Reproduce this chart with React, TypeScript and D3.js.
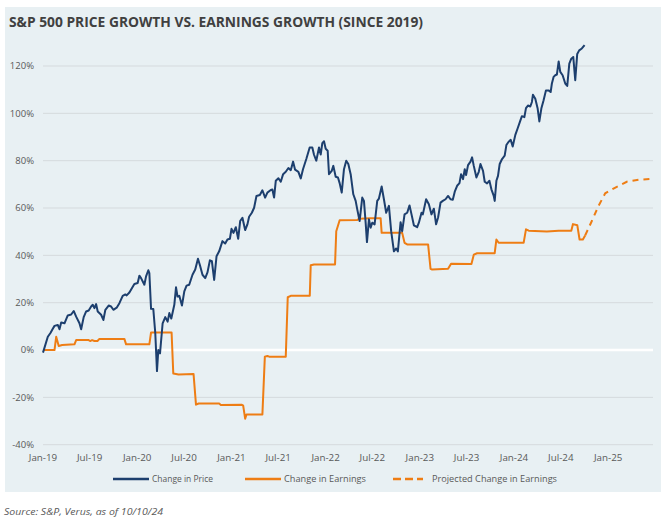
import React from 'react';
import * as d3 from 'd3';

const W = 664;
const H = 520;

const titleText = 'S&P 500 PRICE GROWTH VS. EARNINGS GROWTH (SINCE 2019)';
const sourceText = 'Source: S&P, Verus, as of 10/10/24';

const yTicks = [-40, -20, 0, 20, 40, 60, 80, 100, 120];
const xTickYears = [2019, 2019.496, 2020, 2020.497, 2021, 2021.496, 2022, 2022.496, 2023, 2023.496, 2024, 2024.497, 2025];
const xTickLabels = ['Jan-19', 'Jul-19', 'Jan-20', 'Jul-20', 'Jan-21', 'Jul-21', 'Jan-22', 'Jul-22', 'Jan-23', 'Jul-23', 'Jan-24', 'Jul-24', 'Jan-25'];

const seriesNames = ['Change in Price', 'Change in Earnings', 'Projected Change in Earnings'];

// [decimal year, % change since Jan 2019]
const priceSeries: [number, number][] = [
  [2019.0, -1.1], [2019.051, 5.6], [2019.079, 7.2], [2019.104, 9.0], [2019.122, 10.2], [2019.157, 10.6],
  [2019.175, 8.8], [2019.193, 11.6], [2019.228, 11.3], [2019.263, 14.6], [2019.299, 15.0], [2019.326, 16.5],
  [2019.352, 14.1], [2019.387, 11.3], [2019.405, 8.8], [2019.432, 13.9], [2019.458, 16.3], [2019.485, 16.7],
  [2019.511, 18.4], [2019.528, 19.1], [2019.546, 17.7], [2019.564, 19.4], [2019.581, 16.3], [2019.617, 14.9],
  [2019.641, 12.7], [2019.662, 17.0], [2019.697, 18.8], [2019.723, 18.4], [2019.747, 17.0], [2019.782, 17.9],
  [2019.811, 19.8], [2019.846, 22.9], [2019.874, 23.5], [2019.888, 23.1], [2019.917, 24.3], [2019.945, 26.2],
  [2019.97, 27.9], [2020.005, 28.3], [2020.023, 31.4], [2020.041, 30.4], [2020.076, 27.6], [2020.094, 31.1],
  [2020.118, 33.7], [2020.129, 32.5], [2020.147, 17.4], [2020.171, 17.3], [2020.192, 7.1], [2020.21, -8.9],
  [2020.224, 0.0], [2020.242, -1.4], [2020.27, 11.3], [2020.298, 13.9], [2020.323, 12.0], [2020.341, 15.6],
  [2020.362, 13.3], [2020.394, 19.1], [2020.412, 26.5], [2020.428, 22.6], [2020.447, 22.9], [2020.475, 18.8],
  [2020.5, 24.8], [2020.524, 27.2], [2020.552, 27.6], [2020.587, 31.8], [2020.616, 34.0], [2020.645, 38.6],
  [2020.666, 35.8], [2020.693, 31.8], [2020.722, 30.4], [2020.746, 32.8], [2020.772, 37.9], [2020.793, 37.5],
  [2020.817, 29.6], [2020.842, 39.6], [2020.87, 41.7], [2020.905, 46.0], [2020.934, 45.0], [2020.958, 46.7],
  [2020.984, 47.0], [2021.001, 51.2], [2021.022, 49.5], [2021.047, 51.9], [2021.072, 47.0], [2021.093, 54.5],
  [2021.117, 55.9], [2021.146, 50.7], [2021.17, 53.1], [2021.188, 56.3], [2021.217, 58.0], [2021.241, 60.1],
  [2021.266, 65.1], [2021.302, 65.5], [2021.329, 67.5], [2021.358, 64.4], [2021.382, 66.5], [2021.418, 67.6],
  [2021.435, 67.8], [2021.453, 64.4], [2021.471, 71.5], [2021.499, 72.6], [2021.524, 71.1], [2021.549, 74.3],
  [2021.577, 75.3], [2021.605, 76.9], [2021.63, 76.0], [2021.655, 79.6], [2021.676, 76.2], [2021.711, 75.3],
  [2021.736, 72.5], [2021.76, 76.4], [2021.795, 80.7], [2021.831, 85.6], [2021.859, 85.6], [2021.877, 82.5],
  [2021.901, 80.0], [2021.93, 85.6], [2021.948, 82.6], [2021.965, 87.4], [2021.983, 88.2], [2022.001, 85.0],
  [2022.022, 84.2], [2022.036, 74.3], [2022.065, 75.7], [2022.082, 77.8], [2022.107, 73.2], [2022.131, 72.9],
  [2022.149, 70.5], [2022.171, 66.5], [2022.195, 76.4], [2022.219, 80.0], [2022.241, 78.6], [2022.266, 74.3],
  [2022.294, 65.8], [2022.319, 63.0], [2022.336, 59.4], [2022.361, 54.5], [2022.389, 64.4], [2022.407, 63.0],
  [2022.425, 53.8], [2022.439, 45.6], [2022.46, 55.2], [2022.478, 51.7], [2022.495, 53.8], [2022.52, 53.1],
  [2022.548, 63.0], [2022.566, 64.0], [2022.595, 69.1], [2022.619, 63.7], [2022.643, 58.0], [2022.672, 60.9],
  [2022.696, 50.2], [2022.725, 41.7], [2022.749, 42.9], [2022.767, 41.7], [2022.796, 54.0], [2022.813, 50.2],
  [2022.838, 57.3], [2022.866, 58.0], [2022.891, 61.1], [2022.912, 57.3], [2022.937, 52.7], [2022.972, 51.9],
  [2022.99, 53.8], [2023.018, 58.0], [2023.032, 57.3], [2023.067, 63.7], [2023.096, 61.6], [2023.124, 57.3],
  [2023.149, 59.7], [2023.173, 53.1], [2023.194, 56.0], [2023.22, 62.3], [2023.244, 63.0], [2023.273, 63.7],
  [2023.3, 65.1], [2023.326, 63.7], [2023.35, 63.5], [2023.371, 66.9], [2023.396, 69.4], [2023.421, 70.5],
  [2023.438, 74.3], [2023.459, 72.2], [2023.477, 76.4], [2023.491, 73.9], [2023.512, 78.1], [2023.538, 79.6],
  [2023.555, 81.4], [2023.573, 77.8], [2023.601, 72.9], [2023.626, 75.3], [2023.644, 78.6], [2023.671, 75.7],
  [2023.689, 71.1], [2023.714, 70.4], [2023.739, 71.5], [2023.76, 67.9], [2023.785, 65.1], [2023.795, 63.0],
  [2023.813, 71.5], [2023.83, 73.6], [2023.848, 78.6], [2023.873, 80.7], [2023.901, 82.1], [2023.919, 86.6],
  [2023.943, 88.0], [2023.965, 88.8], [2023.986, 86.0], [2024.014, 90.9], [2024.039, 93.7], [2024.067, 96.9],
  [2024.084, 98.8], [2024.11, 98.4], [2024.127, 102.2], [2024.148, 103.3], [2024.173, 102.9], [2024.19, 104.8],
  [2024.201, 107.9], [2024.226, 106.2], [2024.251, 102.0], [2024.269, 96.6], [2024.29, 102.0], [2024.314, 105.5],
  [2024.339, 109.7], [2024.367, 109.7], [2024.389, 109.0], [2024.402, 112.6], [2024.42, 115.4], [2024.438, 116.1],
  [2024.455, 116.4], [2024.474, 121.9], [2024.491, 117.5], [2024.516, 116.1], [2024.544, 112.6], [2024.565, 111.6],
  [2024.587, 121.0], [2024.608, 123.1], [2024.629, 123.8], [2024.65, 114.0], [2024.671, 125.1], [2024.692, 126.6],
  [2024.72, 127.4], [2024.749, 128.8],
];

const earningsSeries: [number, number][] = [
  [2019.0, 0], [2019.122, 0], [2019.14, 5.6], [2019.167, 1.7], [2019.203, 2.1], [2019.334, 2.4],
  [2019.352, 4.2], [2019.485, 4.2], [2019.5, 3.8], [2019.521, 4.2], [2019.546, 3.8], [2019.578, 3.8],
  [2019.599, 4.7], [2019.864, 4.7], [2019.882, 2.4], [2020.129, 2.4], [2020.147, 7.4], [2020.365, 7.4],
  [2020.383, -9.9], [2020.439, -10.3], [2020.598, -10.1], [2020.624, -23.1], [2020.652, -22.6], [2020.87, -22.6],
  [2020.888, -23.2], [2021.111, -23.1], [2021.125, -23.5], [2021.146, -29.0], [2021.16, -27.2], [2021.329, -27.2],
  [2021.355, -2.8], [2021.382, -2.5], [2021.4, -2.8], [2021.577, -2.8], [2021.598, 22.3], [2021.63, 22.9],
  [2021.832, 22.9], [2021.842, 35.8], [2021.877, 36.1], [2022.1, 36.1], [2022.113, 50.2], [2022.149, 54.8],
  [2022.336, 54.9], [2022.354, 55.5], [2022.478, 55.7], [2022.584, 55.7], [2022.595, 49.5], [2022.813, 49.5],
  [2022.838, 45.3], [2022.866, 44.6], [2023.088, 44.6], [2023.114, 34.3], [2023.131, 34.0], [2023.3, 34.3],
  [2023.332, 36.5], [2023.548, 36.3], [2023.573, 40.3], [2023.608, 40.9], [2023.795, 40.9], [2023.813, 46.7],
  [2023.837, 45.3], [2024.102, 45.3], [2024.127, 51.0], [2024.156, 50.4], [2024.349, 50.1], [2024.474, 50.4],
  [2024.608, 50.4], [2024.626, 53.2], [2024.672, 52.7], [2024.696, 46.7], [2024.731, 46.7], [2024.755, 48.4],
];

const projectedSeries: [number, number][] = [
  [2024.755, 48.4], [2024.826, 54.5], [2024.897, 60.9], [2024.968, 66.2], [2025.056, 68.2],
  [2025.197, 71.1], [2025.321, 71.9], [2025.451, 72.3],
];

const FONT = "'Open Sans', 'Noto Sans', sans-serif";
const NAVY = '#1D3F6E';
const ORANGE = '#EE7D14';
const TEXT = '#595959';

export default function App() {
  const x = d3.scaleLinear().domain([2019, 2025.486]).range([43, 654]);
  const y = d3.scaleLinear().domain([-40, 120]).range([444.7, 66]);
  const line = d3
    .line<[number, number]>()
    .x((d) => x(d[0]))
    .y((d) => y(d[1]))
    .curve(d3.curveLinear);

  const legendY = 479;

  return (
    <svg
      width={W}
      height={H}
      viewBox={`0 0 ${W} ${H}`}
      style={{ position: 'absolute', left: 0, top: 0, background: '#fff' }}
      fontFamily={FONT}
    >
      <rect x={5} y={7} width={656} height={485} fill="#E8F0F3" />
      <text x={9} y={27} fontSize={14} fontWeight={700} fill="#404040" textLength={414} lengthAdjust="spacingAndGlyphs">
        {titleText}
      </text>

      {yTicks.map((t) => (
        <g key={t}>
          {t !== 0 && (
            <line x1={x.range()[0]} x2={653} y1={y(t)} y2={y(t)} stroke="#D5DADD" strokeWidth={1} />
          )}
          <text x={34} y={y(t)} dy="0.35em" textAnchor="end" fontSize={9.5} fill={TEXT}>
            {`${t}%`}
          </text>
        </g>
      ))}
      <line x1={x.range()[0]} x2={653} y1={y(0)} y2={y(0)} stroke="#FFFFFF" strokeWidth={2.6} />

      {xTickYears.map((t, i) => (
        <text key={i} x={x(t)} y={461} textAnchor="middle" fontSize={9.8} fill={TEXT}>
          {xTickLabels[i]}
        </text>
      ))}

      <path d={line(earningsSeries) || ''} fill="none" stroke={ORANGE} strokeWidth={2} strokeLinejoin="round" />
      <path d={line(projectedSeries) || ''} fill="none" stroke={ORANGE} strokeWidth={2} strokeDasharray="6,5" />
      <path d={line(priceSeries) || ''} fill="none" stroke={NAVY} strokeWidth={2} strokeLinejoin="round" />

      <line x1={113} x2={149} y1={legendY} y2={legendY} stroke={NAVY} strokeWidth={2.5} />
      <text x={152} y={legendY} dy="0.35em" fontSize={9} fill={TEXT} textLength={61} lengthAdjust="spacingAndGlyphs">
        {seriesNames[0]}
      </text>
      <line x1={245} x2={281} y1={legendY} y2={legendY} stroke={ORANGE} strokeWidth={2.5} />
      <text x={284} y={legendY} dy="0.35em" fontSize={9} fill={TEXT} textLength={82} lengthAdjust="spacingAndGlyphs">
        {seriesNames[1]}
      </text>
      <line x1={393} x2={423} y1={legendY} y2={legendY} stroke={ORANGE} strokeWidth={2.5} strokeDasharray="8,4" />
      <text x={432} y={legendY} dy="0.35em" fontSize={9} fill={TEXT} textLength={125} lengthAdjust="spacingAndGlyphs">
        {seriesNames[2]}
      </text>

      <text x={4} y={515} fontSize={9.5} fontStyle="italic" fill={TEXT} textLength={159} lengthAdjust="spacingAndGlyphs">
        {sourceText}
      </text>
    </svg>
  );
}
